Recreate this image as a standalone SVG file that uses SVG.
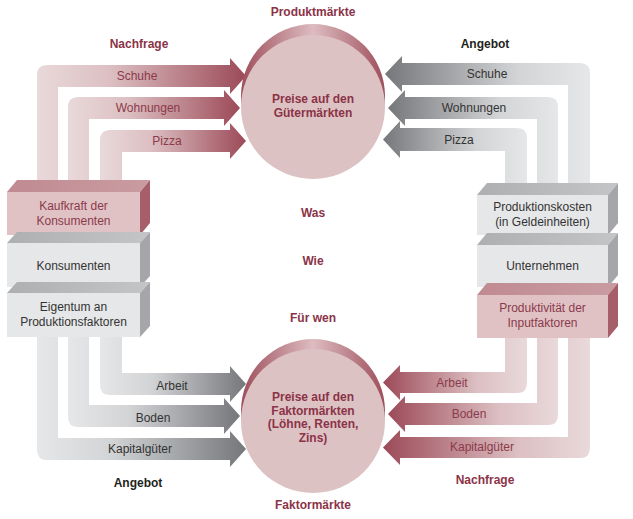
<svg xmlns="http://www.w3.org/2000/svg" width="633" height="519" viewBox="0 0 633 519">
<defs>
<linearGradient id="redR" x1="0" y1="0" x2="1" y2="0"><stop offset="0" stop-color="#E9D9DA"/><stop offset="0.35" stop-color="#DCBFC2"/><stop offset="1" stop-color="#9C4A58"/></linearGradient>
<linearGradient id="redL" x1="1" y1="0" x2="0" y2="0"><stop offset="0" stop-color="#E9D9DA"/><stop offset="0.35" stop-color="#DCBFC2"/><stop offset="1" stop-color="#9C4A58"/></linearGradient>
<linearGradient id="grayR" x1="0" y1="0" x2="1" y2="0"><stop offset="0" stop-color="#E6E7E8"/><stop offset="0.35" stop-color="#D3D4D6"/><stop offset="1" stop-color="#76777A"/></linearGradient>
<linearGradient id="grayL" x1="1" y1="0" x2="0" y2="0"><stop offset="0" stop-color="#E6E7E8"/><stop offset="0.35" stop-color="#D3D4D6"/><stop offset="1" stop-color="#76777A"/></linearGradient>
<linearGradient id="rim" x1="0" y1="0" x2="1" y2="0"><stop offset="0" stop-color="#9E4E5B"/><stop offset="0.5" stop-color="#DDBCC0"/><stop offset="1" stop-color="#9E4E5B"/></linearGradient>
<linearGradient id="topRed" x1="0" y1="0" x2="1" y2="0"><stop offset="0" stop-color="#C08A91"/><stop offset="1" stop-color="#C99CA2"/></linearGradient>
<linearGradient id="topGray" x1="0" y1="0" x2="1" y2="0"><stop offset="0" stop-color="#ADAFB1"/><stop offset="1" stop-color="#C4C5C7"/></linearGradient>
</defs>
<style>
text{font-family:"Liberation Sans",Arial,sans-serif;font-size:12px;text-anchor:middle}
.b{font-weight:bold}
.m{fill:#8B3347}
.k{fill:#231F20}
.lr{fill:#8B3A4A}
.lg{fill:#333333}
.disc{fill:#DDC2C4}
.rimc{fill:url(#rim)}
.fr{fill:#E0C2C5}
.tr{fill:url(#topRed)}
.sr{fill:#A65E69}
.fg{fill:#E6E7E8}
.tg{fill:url(#topGray)}
.sg{fill:#A4A6A9}
</style>

<g id="connectors">
<!-- top-left red (Nachfrage) -->
<path fill="url(#redR)" d="M37,190 L37,75 Q37,65 47,65 L230,65 L230,58 L246,76 L230,94 L230,87 L58,87 L58,190 Z"/>
<path fill="url(#redR)" d="M68,190 L68,107 Q68,97 78,97 L224,97 L224,90 L240,108 L224,126 L224,119 L89,119 L89,190 Z"/>
<path fill="url(#redR)" d="M100,190 L100,140 Q100,130 110,130 L230,130 L230,123 L246,141 L230,159 L230,152 L122,152 L122,190 Z"/>
<!-- top-right gray (Angebot) -->
<path fill="url(#grayL)" d="M590,190 L590,73 Q590,63 580,63 L402,63 L402,56 L385,74 L402,92 L402,85 L568,85 L568,190 Z"/>
<path fill="url(#grayL)" d="M558,190 L558,107 Q558,97 548,97 L405,97 L405,90 L388,108 L405,126 L405,119 L537,119 L537,190 Z"/>
<path fill="url(#grayL)" d="M527,190 L527,138 Q527,128 517,128 L400,128 L400,121 L383,139.5 L400,158 L400,151 L505,151 L505,190 Z"/>
<!-- bottom-left gray (Angebot) -->
<path fill="url(#grayR)" d="M100,330 L100,385 Q100,395 110,395 L230,395 L230,402 L246,384 L230,366 L230,373 L122,373 L122,330 Z"/>
<path fill="url(#grayR)" d="M68,330 L68,417 Q68,427 78,427 L224,427 L224,434 L240,416 L224,398 L224,405 L89,405 L89,330 Z"/>
<path fill="url(#grayR)" d="M37,330 L37,450 Q37,460 47,460 L230,460 L230,467 L246,449 L230,431 L230,438 L58,438 L58,330 Z"/>
<!-- bottom-right red (Nachfrage) -->
<path fill="url(#redL)" d="M527,330 L527,383 Q527,393 517,393 L400,393 L400,400 L383,382.5 L400,365 L400,372 L505,372 L505,330 Z"/>
<path fill="url(#redL)" d="M558,330 L558,415 Q558,425 548,425 L405,425 L405,432 L388,414 L405,396 L405,403 L537,403 L537,330 Z"/>
<path fill="url(#redL)" d="M590,330 L590,448 Q590,458 580,458 L400,458 L400,465 L383,447.5 L400,430 L400,437 L568,437 L568,330 Z"/>
</g>

<g id="arrow-labels">
<text x="137" y="80" class="lr">Schuhe</text>
<text x="148" y="112" class="lr">Wohnungen</text>
<text x="167" y="145" class="lr">Pizza</text>
<text x="487" y="78" class="lg">Schuhe</text>
<text x="474" y="112" class="lg">Wohnungen</text>
<text x="459" y="144" class="lg">Pizza</text>
<text x="172" y="390" class="lg">Arbeit</text>
<text x="153" y="422" class="lg">Boden</text>
<text x="140" y="453" class="lg">Kapitalgüter</text>
<text x="452" y="387" class="lr">Arbeit</text>
<text x="469" y="418" class="lr">Boden</text>
<text x="482" y="451" class="lr">Kapitalgüter</text>
</g>

<g id="markt-top">
<circle cx="313" cy="96" r="72" class="rimc"/>
<circle cx="313" cy="107" r="72" class="disc"/>
<text x="313" y="103" class="b m">Preise auf den</text>
<text x="313" y="117" class="b m">Gütermärkten</text>
</g>

<g id="markt-bottom">
<circle cx="313" cy="411" r="72" class="rimc"/>
<circle cx="313" cy="421" r="72" class="disc"/>
<text x="313" y="401" class="b m">Preise auf den</text>
<text x="313" y="414.5" class="b m">Faktormärkten</text>
<text x="313" y="428" class="b m">(Löhne, Renten,</text>
<text x="313" y="441.5" class="b m">Zins)</text>
</g>

<g id="box-kaufkraft">
<polygon class="tr" points="7,192 17,180 150,180 140,192"/>
<polygon class="sr" points="140,192 150,180 150,223 140,235"/>
<rect class="fr" x="7" y="192" width="133" height="43"/>
<text x="73.5" y="210" class="lr">Kaufkraft der</text>
<text x="73.5" y="225" class="lr">Konsumenten</text>
</g>
<g id="box-konsumenten">
<polygon class="tg" points="7,243 17,232 150,232 140,243"/>
<polygon class="sg" points="140,243 150,232 150,276 140,287"/>
<rect class="fg" x="7" y="243" width="133" height="44"/>
<text x="73.5" y="270" class="lg">Konsumenten</text>
</g>
<g id="box-eigentum">
<polygon class="tg" points="7,293 17,282 150,282 140,293"/>
<polygon class="sg" points="140,293 150,282 150,326 140,337"/>
<rect class="fg" x="7" y="293" width="133" height="44"/>
<text x="73.5" y="311" class="lg">Eigentum an</text>
<text x="73.5" y="326" class="lg">Produktionsfaktoren</text>
</g>

<g id="box-produktionskosten">
<polygon class="tg" points="477,195 487,183 618,183 608,195"/>
<polygon class="sg" points="608,195 618,183 618,223 608,235"/>
<rect class="fg" x="477" y="195" width="131" height="40"/>
<text x="542.5" y="211" class="lg">Produktionskosten</text>
<text x="542.5" y="226" class="lg">(in Geldeinheiten)</text>
</g>
<g id="box-unternehmen">
<polygon class="tg" points="477,245 487,233 618,233 608,245"/>
<polygon class="sg" points="608,245 618,233 618,275 608,287"/>
<rect class="fg" x="477" y="245" width="131" height="42"/>
<text x="542.5" y="270" class="lg">Unternehmen</text>
</g>
<g id="box-produktivitaet">
<polygon class="tr" points="477,295 487,283 618,283 608,295"/>
<polygon class="sr" points="608,295 618,283 618,326 608,338"/>
<rect class="fr" x="477" y="295" width="131" height="43"/>
<text x="542.5" y="312" class="lr">Produktivität der</text>
<text x="542.5" y="327" class="lr">Inputfaktoren</text>
</g>

<g id="titles">
<text x="313" y="16" class="b m">Produktmärkte</text>
<text x="313" y="509" class="b m">Faktormärkte</text>
<text x="139" y="48" class="b m">Nachfrage</text>
<text x="485" y="48" class="b k">Angebot</text>
<text x="138" y="487" class="b k">Angebot</text>
<text x="485" y="484" class="b m">Nachfrage</text>
<text x="313" y="217" class="b m">Was</text>
<text x="313" y="265" class="b m">Wie</text>
<text x="313" y="322" class="b m">Für wen</text>
</g>
</svg>
